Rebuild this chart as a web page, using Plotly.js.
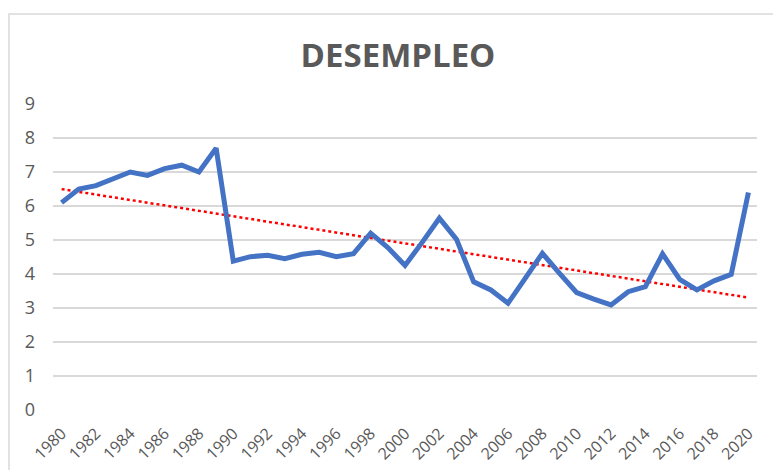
<!DOCTYPE html>
<html>
<head>
<meta charset="utf-8">
<script src="https://cdn.plot.ly/plotly-3.0.1.min.js"></script>
<style>html,body{margin:0;padding:0;background:#fff;}#chart{width:773px;height:470px;}</style>
</head>
<body>
<div id="chart"></div>
<script>
const years = [1980,1981,1982,1983,1984,1985,1986,1987,1988,1989,1990,1991,1992,1993,1994,1995,1996,1997,1998,1999,2000,2001,2002,2003,2004,2005,2006,2007,2008,2009,2010,2011,2012,2013,2014,2015,2016,2017,2018,2019,2020];
const desempleo = [6.1,6.5,6.6,6.8,7.0,6.9,7.1,7.2,7.0,7.7,4.38,4.51,4.55,4.45,4.58,4.64,4.51,4.6,5.2,4.78,4.25,4.93,5.64,5.02,3.77,3.53,3.14,3.87,4.61,4.02,3.45,3.26,3.09,3.48,3.63,4.59,3.84,3.53,3.8,3.99,6.4];
const xTickVals = [1980,1982,1984,1986,1988,1990,1992,1994,1996,1998,2000,2002,2004,2006,2008,2010,2012,2014,2016,2018,2020];
const xTickText = xTickVals.map(String);
const yTickVals = [0,1,2,3,4,5,6,7,8,9];

// Linear trendline (least squares) from the data, as Excel does
const n = years.length;
const mx = years.reduce((a,b)=>a+b,0)/n;
const my = desempleo.reduce((a,b)=>a+b,0)/n;
let sxy=0, sxx=0;
for (let i=0;i<n;i++){ sxy += (years[i]-mx)*(desempleo[i]-my); sxx += (years[i]-mx)*(years[i]-mx); }
const slope = sxy/sxx, icpt = my - slope*mx;
const trend = years.map(y => icpt + slope*y);

const traces = [
  {x: years, y: trend, type:'scatter', mode:'lines', line:{color:'#FF0000', width:2.5, dash:'dot'}, hoverinfo:'skip'},
  {x: years, y: desempleo, type:'scatter', mode:'lines', line:{color:'#4472C4', width:5}}
];

const L=53, R=16, T=104, B=60, W=773, H=470;
const pw = W-L-R, ph = H-T-B;
const layout = {
  width: W, height: H,
  margin: {l:L, r:R, t:T, b:B, pad:0},
  paper_bgcolor:'#fff', plot_bgcolor:'#fff',
  showlegend:false,
  font:{family:'"Open Sans", "Noto Sans", sans-serif', color:'#595959'},
  title:{text:'<b>DESEMPLEO</b>', font:{size:33, color:'#595959', family:'"Open Sans", sans-serif'}, xref:'container', yref:'container', x:398/W, y:1-55/H, xanchor:'center', yanchor:'middle'},
  xaxis:{range:[1979.5,2020.5], tickmode:'array', tickvals:xTickVals, ticktext:xTickText, tickangle:-45, showgrid:false, zeroline:false, showline:false, ticks:'', tickfont:{size:16, color:'#595959'}, ticklabelstandoff:10, fixedrange:true},
  yaxis:{range:[0,9], tickmode:'array', tickvals:yTickVals, showgrid:true, gridcolor:'#d9d9d9', gridwidth:1.5, zeroline:false, showline:false, ticks:'', tickfont:{size:18, color:'#595959'}, ticklabelstandoff:17, fixedrange:true},
  shapes:[{type:'rect', xref:'paper', yref:'paper', x0:(9-L)/pw, x1:(W+20-L)/pw, y0:-(H+20-(H-B))/ph, y1:((H-B)-14)/ph, line:{color:'#d9d9d9', width:1.5}, fillcolor:'rgba(0,0,0,0)', layer:'below'}]
};
Plotly.newPlot('chart', traces, layout, {displayModeBar:false, staticPlot:true});
</script>
</body>
</html>
